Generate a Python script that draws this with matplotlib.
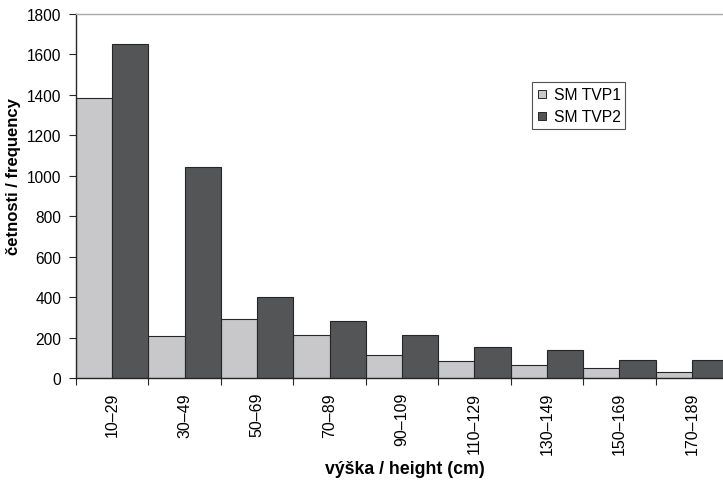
import matplotlib
matplotlib.use("Agg")
import matplotlib.pyplot as plt
from matplotlib.lines import Line2D
import numpy as np

categories = ["10–29", "30–49", "50–69", "70–89", "90–109", "110–129", "130–149", "150–169", "170–189"]
tvp1 = [1385, 210, 290, 212, 114, 84, 64, 49, 28]
tvp2 = [1650, 1042, 400, 281, 211, 152, 138, 89, 87]
series_names = ["SM TVP1", "SM TVP2"]
yticks = [0, 200, 400, 600, 800, 1000, 1200, 1400, 1600, 1800]

light = "#C8C8CA"
dark = "#545556"
edge = "#262626"

plt.rcParams['font.family'] = ['Liberation Sans', 'DejaVu Sans']

W, H = 723, 481
fig = plt.figure(figsize=(W / 100, H / 100), dpi=100)
ax = fig.add_axes([76 / W, 1 - 379 / H, (728 - 76) / W, (379 - 15) / H])

x = np.arange(len(categories))
ax.bar(x - 0.25, tvp1, width=0.5, color=light, edgecolor=edge, linewidth=0.8, zorder=2)
ax.bar(x + 0.25, tvp2, width=0.5, color=dark, edgecolor=edge, linewidth=0.8, zorder=2)

ax.set_xlim(-0.5, len(categories) - 0.5)
ax.set_ylim(0, 1800)
ax.set_yticks(yticks)
ax.set_yticklabels([str(v) for v in yticks])
ax.tick_params(axis='y', direction='out', length=5, width=0.8, color=edge, labelsize=11.2, pad=5.5)

ax.set_xticks(x)
ax.set_xticklabels(categories, rotation=90, fontsize=11.5)
ax.tick_params(axis='x', which='major', length=0, pad=10)
ax.set_xticks(np.arange(len(categories) + 1) - 0.5, minor=True)
ax.tick_params(axis='x', which='minor', direction='out', length=5, width=0.8, color=edge)

for s in ['left', 'bottom']:
    ax.spines[s].set_color(edge)
    ax.spines[s].set_linewidth(1.0)
ax.spines['right'].set_visible(False)
ax.spines['top'].set_color("#A8A8A8")
ax.spines['top'].set_linewidth(1.0)

fig.text(405 / W, 1 - 470 / H, "výška / height (cm)", ha='center', va='center',
         fontsize=12.8, fontweight='bold')
fig.text(14 / W, 1 - 177 / H, "četnosti / frequency", ha='center', va='center',
         rotation=90, fontsize=12, fontweight='bold')

handles = [Line2D([], [], linestyle='none', marker='s', markersize=5.5,
                  markerfacecolor=c, markeredgecolor=edge, markeredgewidth=0.7)
           for c in (light, dark)]
leg = ax.legend(handles, series_names, loc='upper left',
                bbox_to_anchor=(531.7 / W, 1 - 83.3 / H), bbox_transform=fig.transFigure,
                borderaxespad=0, fontsize=11.3, frameon=True, fancybox=False,
                handlelength=0.7, handletextpad=0.4, borderpad=0.3, labelspacing=0.45)
leg.get_frame().set_edgecolor(edge)
leg.get_frame().set_linewidth(0.8)

fig.savefig("out.png", dpi=100)
